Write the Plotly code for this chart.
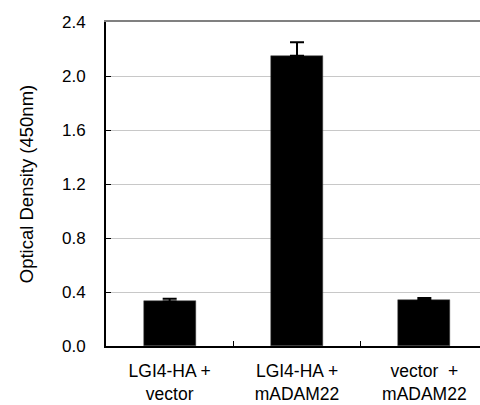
import plotly.graph_objects as go

categories = ["LGI4-HA +<br>vector", "LGI4-HA +<br>mADAM22", "vector  +<br>mADAM22"]
values = [0.33, 2.15, 0.34]
errors = [0.02, 0.10, 0.015]
y_ticks = [0.0, 0.4, 0.8, 1.2, 1.6, 2.0, 2.4]
y_ticktext = ["0.0", "0.4", "0.8", "1.2", "1.6", "2.0", "2.4"]

FONT = "Liberation Sans, Arial, sans-serif"
x_pos = list(range(len(categories)))
xr = [-0.5, 2.437]

fig = go.Figure()
fig.add_trace(go.Bar(
    x=x_pos, y=values, width=0.41,
    marker=dict(color="black", line=dict(color="#404040", width=0.5)),
    error_y=dict(type="data", array=errors, symmetric=False, arrayminus=[0]*3,
                 color="black", thickness=2, width=7),
    showlegend=False,
))
fig.add_trace(go.Scatter(x=[0], y=[0], xaxis="x2", mode="markers",
                         marker=dict(opacity=0), showlegend=False, hoverinfo="skip"))
fig.add_trace(go.Scatter(x=[0], y=[0], xaxis="x3", mode="markers",
                         marker=dict(opacity=0), showlegend=False, hoverinfo="skip"))

fig.update_layout(
    width=480, height=405,
    margin=dict(l=106, r=0, t=22, b=59),
    paper_bgcolor="white", plot_bgcolor="white",
    font=dict(family=FONT, size=17, color="black"),
    bargap=0,
    xaxis=dict(range=xr, tickvals=x_pos, ticktext=categories, ticks="",
               showline=True, linecolor="black", linewidth=2, showgrid=False,
               zeroline=False, tickfont=dict(size=17.5), ticklabelstandoff=8,
               automargin=False),
    xaxis2=dict(range=xr, overlaying="x", anchor="y", side="bottom",
                tickvals=[0.5, 1.5], ticks="inside", ticklen=5, tickwidth=1,
                tickcolor="black", showticklabels=False, showgrid=False,
                showline=False, zeroline=False, automargin=False),
    xaxis3=dict(range=xr, overlaying="x", anchor="y", side="top",
                showline=True, linecolor="#808080", linewidth=2, ticks="",
                showticklabels=False, showgrid=False, zeroline=False,
                automargin=False),
    yaxis=dict(range=[0, 2.4], tickvals=y_ticks, ticktext=y_ticktext,
               ticks="inside", ticklen=5, tickwidth=1, tickcolor="black",
               showline=True, linecolor="black", linewidth=2,
               showgrid=True, gridcolor="#c8c8c8", gridwidth=1,
               zeroline=False, tickfont=dict(size=17), ticklabelstandoff=15,
               automargin=False,
               title=dict(text="Optical Density (450nm)", font=dict(size=18.5),
                          standoff=23)),
)

fig.write_html("out.html")
